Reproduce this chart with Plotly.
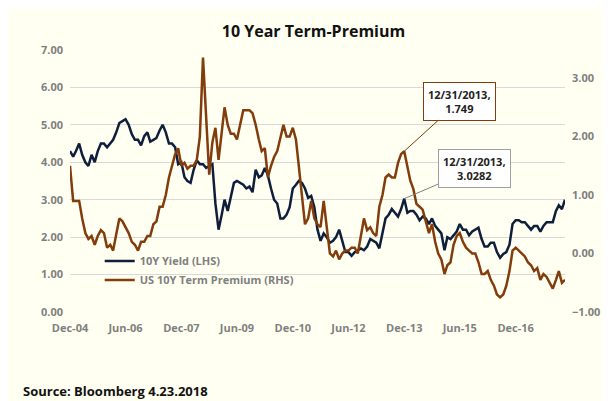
import plotly.graph_objects as go
import pandas as pd

dates = pd.date_range("2004-12-31", periods=161, freq="ME")
yield_10y = [4.3,
 4.15,4.3,4.5,4.2,4.0,3.9,4.2,4.0,4.3,4.5,4.5,4.4,
 4.5,4.6,4.8,5.05,5.1,5.15,5.0,4.75,4.6,4.6,4.45,4.7,
 4.8,4.55,4.6,4.65,4.85,5.0,4.8,4.5,4.5,4.4,3.95,4.0,
 3.6,3.5,3.45,3.8,4.05,3.95,3.95,3.85,3.9,3.95,2.9,2.2,
 2.6,3.0,2.7,3.1,3.45,3.5,3.45,3.4,3.3,3.35,3.2,3.8,
 3.6,3.65,3.85,3.65,3.3,3.0,2.9,2.5,2.5,2.6,2.8,3.3,
 3.4,3.5,3.45,3.3,3.05,3.1,2.8,2.2,1.9,2.1,2.0,1.85,
 1.9,2.0,2.2,1.9,1.6,1.6,1.5,1.6,1.65,1.7,1.65,1.75,
 1.95,1.9,1.85,1.7,2.1,2.5,2.6,2.75,2.65,2.55,2.75,3.0282,
 2.65,2.7,2.7,2.6,2.45,2.55,2.5,2.35,2.5,2.3,2.2,2.1,
 1.65,2.0,1.95,2.05,2.15,2.35,2.2,2.2,2.05,2.15,2.2,2.25,
 1.95,1.75,1.75,1.85,1.85,1.6,1.45,1.55,1.6,1.8,2.35,2.45,
 2.45,2.4,2.4,2.3,2.2,2.3,2.3,2.15,2.3,2.4,2.4,2.4,
 2.7,2.85,2.75,3.0]
term_premium = [1.5,
 0.9,0.9,0.9,0.6,0.35,0.25,0.3,0.15,0.3,0.4,0.35,0.1,
 0.15,0.05,0.3,0.6,0.55,0.45,0.35,0.2,0.15,0.05,0.2,0.2,
 0.3,0.3,0.5,0.55,0.8,0.8,1.0,1.3,1.5,1.7,1.8,1.5,
 1.55,1.45,1.5,1.5,1.6,2.0,3.35,2.2,1.35,1.9,2.15,1.6,
 2.1,2.5,2.2,2.05,2.05,1.95,2.2,2.45,2.45,2.45,2.4,2.2,
 1.95,1.75,1.8,1.3,1.5,1.65,1.75,2.0,2.2,2.0,2.0,2.15,
 1.95,1.5,1.0,0.5,0.6,0.9,0.6,0.5,0.45,0.9,0.45,0.0,
 -0.05,0.05,-0.1,0.0,0.05,0.05,0.1,0.1,0.0,0.3,0.6,0.4,
 0.45,0.35,0.3,0.8,1.0,1.3,1.35,1.3,1.3,1.55,1.7,1.749,
 1.45,1.25,1.1,0.85,0.8,0.75,0.55,0.35,0.5,0.2,0.0,-0.1,
 -0.35,-0.2,-0.15,0.15,0.3,0.35,0.2,0.1,0.05,0.0,0.0,-0.15,
 -0.35,-0.35,-0.3,-0.45,-0.55,-0.7,-0.75,-0.7,-0.55,-0.3,0.05,0.1,
 0.05,0.0,-0.05,-0.15,-0.2,-0.3,-0.25,-0.45,-0.35,-0.4,-0.5,-0.6,
 -0.45,-0.3,-0.5,-0.45]
tick_dates = ["2004-12-31","2006-06-30","2007-12-31","2009-06-30","2010-12-31",
              "2012-06-30","2013-12-31","2015-06-30","2016-12-31"]
tick_labels = ["Dec-04","Jun-06","Dec-07","Jun-09","Dec-10","Jun-12","Dec-13","Jun-15","Dec-16"]

navy = "#0f1f3a"
brown = "#833c0b"
bg = "#fffff2"
gray = "#7f7f7f"
font = "Open Sans"

fig = go.Figure()
fig.add_trace(go.Scatter(x=dates, y=yield_10y, name="10Y Yield (LHS)",
                         line=dict(color=navy, width=2.5)))
fig.add_trace(go.Scatter(x=dates, y=term_premium, name="US 10Y Term Premium (RHS)",
                         yaxis="y2", line=dict(color=brown, width=2.5)))

fig.add_annotation(x=dates[108], y=term_premium[108], yref="y2",
                   text="<b>12/31/2013,<br>1.749</b>", showarrow=True,
                   arrowhead=0, arrowcolor=brown, arrowwidth=1, ax=55, ay=-50,
                   bordercolor=brown, borderwidth=1, bgcolor="white", borderpad=4,
                   font=dict(family=font, size=11, color="#222"))
fig.add_annotation(x=dates[108], y=yield_10y[108],
                   text="<b>12/31/2013,<br>3.0282</b>", showarrow=True,
                   arrowhead=0, arrowcolor=gray, arrowwidth=1, ax=70, ay=-30,
                   bordercolor="#a0a0a0", borderwidth=1, bgcolor="white", borderpad=4,
                   font=dict(family=font, size=11, color="#222"))
fig.add_annotation(xref="paper", yref="paper", x=-0.1, y=-0.3, xanchor="left",
                   yanchor="middle", showarrow=False,
                   text="<b>Source: Bloomberg 4.23.2018</b>",
                   font=dict(family=font, size=13, color="#111"))

fig.update_layout(
    width=611, height=401, paper_bgcolor=bg, plot_bgcolor=bg,
    margin=dict(l=62, r=54, t=42, b=97),
    title=dict(text="<b>10 Year Term-Premium</b>", x=0.5, y=0.955, xanchor="center",
               font=dict(family=font, size=16, color="#111")),
    font=dict(family=font, size=11, color=gray),
    xaxis=dict(tickvals=tick_dates, ticktext=tick_labels, range=["2004-12-31", "2018-04-30"],
               showgrid=False, zeroline=False, ticks="", ticklabelstandoff=8,
               tickfont=dict(size=11, color=gray, weight="bold")),
    yaxis=dict(range=[0, 7], dtick=1, tickformat=".2f", gridcolor="#d9d9d9",
               zeroline=False, ticklabelstandoff=6,
               tickfont=dict(color=gray, weight="bold")),
    yaxis2=dict(range=[-1, 3.48], tickvals=[-1, 0, 1, 2, 3], tickformat=".2f",
                overlaying="y", side="right", showgrid=False, zeroline=False,
                ticklabelstandoff=6, tickfont=dict(color=gray, weight="bold")),
    legend=dict(x=0.06, y=0.25, xanchor="left", yanchor="top", bgcolor="rgba(0,0,0,0)",
                font=dict(size=11, color=gray, weight="bold"), tracegroupgap=8),
    showlegend=True,
)
fig.write_html("out.html")
